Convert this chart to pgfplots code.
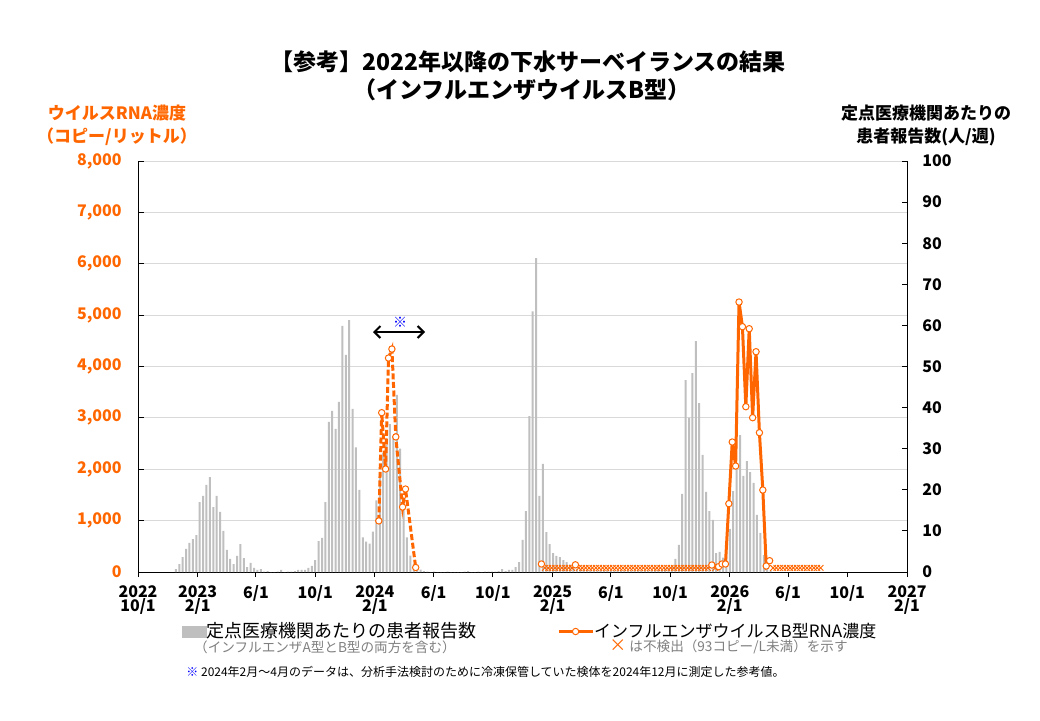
\documentclass[border=0pt]{standalone}
\usepackage{fontspec}
\setmainfont{Noto Sans CJK JP}
\usepackage{pgfplots}
\pgfplotsset{compat=1.18}
\usepackage{pgfplotstable}
\usetikzlibrary{arrows.meta}
\definecolor{barGray}{HTML}{BFBFBF}
\definecolor{gridGray}{HTML}{D9D9D9}
\definecolor{rnaOrange}{HTML}{FF6600}
\definecolor{subGray}{HTML}{7F7F7F}

% weekly patients per sentinel site (right axis); x = days since 2022-10-01
\pgfplotstableread{
day value
78 0.7
85 1.9
92 3.6
99 5.6
106 7.1
113 8.0
120 9.0
127 17.0
134 18.5
141 21.2
148 23.1
155 15.8
162 18.5
169 14.6
176 10.0
183 5.4
190 3.2
197 1.9
204 3.9
211 6.8
218 3.4
225 1.2
232 2.2
239 1.0
246 0.5
253 0.7
260 0.1
267 0.2
274 0
281 0
288 0.1
295 0.5
302 0
309 0.1
316 0.1
323 0.2
330 0.5
337 0.5
344 0.5
351 1.0
358 1.5
365 2.9
372 7.5
379 8.3
386 17.0
393 36.5
400 39.2
407 34.8
414 41.4
421 59.9
428 52.8
435 61.3
442 39.7
449 30.3
456 20.0
463 8.4
470 7.4
477 6.9
484 9.8
491 17.4
498 24.0
505 29.0
512 31.0
519 36.0
526 33.0
533 43.1
540 30.0
547 18.0
554 8.4
561 4.0
568 2.0
575 1.0
582 0.6
589 0.2
596 0.1
603 0
610 0.1
617 0
624 0
631 0
638 0.1
645 0
652 0
659 0
666 0
673 0.1
680 0.2
687 0
694 0
701 0.1
708 0
715 0.1
722 0.1
729 0.1
736 0.1
743 0.2
750 0.7
757 0.2
764 0.5
771 0.5
778 1.2
785 2.4
792 7.8
799 14.8
806 37.9
813 63.4
820 76.4
827 18.5
834 26.3
841 9.7
848 6.8
855 4.6
862 3.9
869 3.6
876 2.9
883 2.4
890 1.8
897 1.2
904 0.8
911 0.6
918 0.5
925 0.4
932 0.3
939 0.3
946 0.3
953 0.3
960 0.3
967 0.3
974 0.3
981 0.3
988 0.3
995 0.3
1002 0.3
1009 0.3
1016 0.3
1023 0.3
1030 0.3
1037 0.3
1044 0.3
1051 0.3
1058 0.3
1065 0.4
1072 0.5
1079 0.6
1086 0.8
1093 1.0
1100 1.5
1107 3.2
1114 6.6
1121 19.0
1128 46.7
1135 37.5
1142 48.4
1149 56.2
1156 41.1
1163 28.5
1170 19.5
1177 14.8
1184 12.7
1191 4.6
1198 4.9
1205 3.5
1212 6.0
1219 10.5
1226 19.7
1233 26.0
1240 33.3
1247 23.4
1254 27.0
1261 24.3
1268 21.7
1275 13.9
1282 9.5
1289 4.1
1296 1.0
1303 0.4
}\patients

% RNA reference values (Feb-Apr 2024, dashed)
\pgfplotstableread{
day rna
496 995
502 3101
510 2005
516 4165
523 4340
531 2630
545 1265
551 1615
572 88
}\rnaRef

% RNA 2025-26 season (solid)
\pgfplotstableread{
day rna
1182 136
1196 104
1203 156
1210 156
1217 1330
1224 2530
1231 2063
1238 5255
1245 4775
1252 3218
1259 4736
1266 3004
1273 4288
1280 2712
1287 1596
1294 117
1301 220
}\rnaMain

% isolated detections
\pgfplotstableread{
day rna
831 156
901 140
}\rnaIso

% not detected (< 93 copies/L)
\pgfplotstableread{
day rna
838 80
845 80
852 80
859 80
866 80
873 80
880 80
887 80
894 80
908 80
915 80
922 80
929 80
936 80
943 80
950 80
957 80
964 80
971 80
978 80
985 80
992 80
999 80
1006 80
1013 80
1020 80
1027 80
1034 80
1041 80
1048 80
1055 80
1062 80
1069 80
1076 80
1083 80
1090 80
1097 80
1104 80
1111 80
1118 80
1125 80
1132 80
1139 80
1146 80
1153 80
1160 80
1167 80
1174 80
1189 80
1308 80
1315 80
1322 80
1329 80
1336 80
1343 80
1350 80
1357 80
1364 80
1371 80
1378 80
1385 80
1392 80
1399 80
1406 80
}\rnaND

\begin{document}
\begin{tikzpicture}
\path[use as bounding box] (0,0) rectangle (520pt,360pt);
\pgfplotsset{base/.style={at={(69pt,74pt)}, anchor=south west, scale only axis,
  width=384.5pt, height=205.5pt, xmin=0, xmax=1584,
  axis line style={-,black,line width=0.5pt},
  tick style={black,line width=0.5pt}}}

% Axis A: left RNA axis with grid
\begin{axis}[base, ymin=0, ymax=8000,
  axis x line=none, axis y line*=left,
  ytick={0,1000,2000,3000,4000,5000,6000,7000,8000},
  yticklabels={0,{1,000},{2,000},{3,000},{4,000},{5,000},{6,000},{7,000},{8,000}},
  ymajorgrids, grid style={gridGray,line width=0.5pt},
  tick align=inside, major tick length=3pt,
  yticklabel style={font=\bfseries\fontsize{8}{9}\selectfont, text=rnaOrange, anchor=east, inner sep=0pt, xshift=-8pt}]
\addplot[draw=none] coordinates {(0,0)};
\end{axis}

% Axis B: patients (right axis) bars and x axis
\begin{axis}[base, ymin=0, ymax=100,
  axis x line*=bottom, axis y line*=right,
  xtick={0,123,243,365,488,609,731,854,974,1096,1219,1339,1461,1584},
  xticklabels={{2022\\10/1},{2023\\2/1},{6/1},{10/1},{2024\\2/1},{6/1},{10/1},{2025\\2/1},{6/1},{10/1},{2026\\2/1},{6/1},{10/1},{2027\\2/1}},
  xtick align=outside, ytick align=inside, major tick length=2.5pt,
  ytick={0,10,20,30,40,50,60,70,80,90,100},
  yticklabels={0,10,20,30,40,50,60,70,80,90,100},
  yticklabel style={font=\bfseries\fontsize{8}{9}\selectfont, anchor=west, inner sep=0pt, xshift=7.5pt},
  xticklabel style={font=\bfseries\fontsize{8}{7}\selectfont, align=center, anchor=north, inner sep=0pt, yshift=-4pt},
  legend style={draw=none, fill=none, at={(0.0572,-0.1448)}, anchor=west, inner sep=0pt, outer sep=0pt,
    font=\fontsize{9}{10}\selectfont, nodes={inner sep=0pt},
    /tikz/every even column/.append style={column sep=2pt}}]
\addplot[ybar, bar width=1pt, fill=barGray, draw=none, forget plot] table[x=day, y=value] {\patients};
\addlegendimage{legend image code/.code={\fill[barGray] (0pt,-2.75pt) rectangle (12pt,2.75pt);}}
\addlegendentry{定点医療機関あたりの患者報告数}
\end{axis}

% Axis C: RNA concentration plots
\begin{axis}[base, ymin=0, ymax=8000, hide axis, clip=false,
  legend style={draw=none, fill=none, at={(0.5449,-0.1448)}, anchor=west, inner sep=0pt, outer sep=0pt,
    font=\fontsize{8.5}{10}\selectfont, nodes={inner sep=0pt},
    /tikz/every even column/.append style={column sep=1pt}}]
\addplot[rnaOrange, line width=0.45pt, only marks, mark=x, mark size=2pt, forget plot] table[x=day, y=rna] {\rnaND};
\addplot[rnaOrange, line width=1.5pt, dash pattern=on 3pt off 1.3pt, mark=*, mark size=1.6pt,
  mark options={solid, fill=white, line width=0.5pt}, forget plot] table[x=day, y=rna] {\rnaRef};
\addplot[rnaOrange, only marks, mark=*, mark size=1.6pt,
  mark options={fill=white, line width=0.5pt}, forget plot] table[x=day, y=rna] {\rnaIso};
\addplot[rnaOrange, line width=1.5pt, mark=*, mark size=1.6pt,
  mark options={fill=white, line width=0.5pt}] table[x=day, y=rna] {\rnaMain};
\addlegendentry{インフルエンザウイルスB型RNA濃度}
\end{axis}

% texts in pixel coordinates (origin top-left)
\begin{scope}[shift={(0pt,360pt)}, x=0.5pt, y=-0.5pt]
\node[font=\bfseries\fontsize{11.5}{13}\selectfont] at (528,62) {【参考】2022年以降の下水サーベイランスの結果};
\node[font=\bfseries\fontsize{11.5}{13}\selectfont] at (522,90) {（インフルエンザウイルスB型）};
\node[font=\bfseries\fontsize{8.5}{10}\selectfont, text=rnaOrange] at (117,113) {ウイルスRNA濃度};
\node[font=\bfseries\fontsize{8.5}{10}\selectfont, text=rnaOrange] at (117,137) {（コピー/リットル）};
\node[font=\bfseries\fontsize{8.5}{10}\selectfont] at (926,113) {定点医療機関あたりの};
\node[font=\bfseries\fontsize{8.5}{10}\selectfont] at (926,137) {患者報告数(人/週)};
\node[font=\fontsize{6.8}{8}\selectfont, text=subGray] at (325,647) {（インフルエンザA型とB型の両方を含む）};
\node[font=\fontsize{6.8}{8}\selectfont, text=subGray, anchor=west, inner sep=0pt] at (609,647) {\textcolor{rnaOrange}{\fontsize{8.5}{8}\selectfont ×} は不検出（93コピー/L未満）を示す};
\node[font=\fontsize{6}{7}\selectfont, anchor=west, inner sep=0pt] at (186,672) {\textcolor{blue}{※} 2024年2月～4月のデータは、分析手法検討のために冷凍保管していた検体を2024年12月に測定した参考値。};
\draw[{Straight Barb[length=3pt,width=6pt]}-{Straight Barb[length=3pt,width=6pt]}, line width=1pt] (373,332) -- (425,332);
\node[text=blue, font=\fontsize{7}{8}\selectfont] at (400,322) {※};
\end{scope}
\end{tikzpicture}
\end{document}
